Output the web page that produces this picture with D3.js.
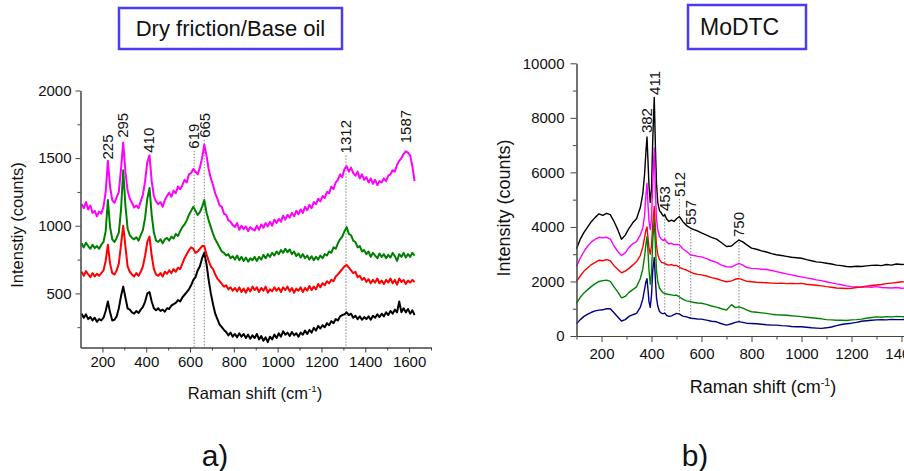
<!DOCTYPE html>
<html>
<head>
<meta charset="utf-8">
<script src="https://cdn.jsdelivr.net/npm/d3@7"></script>
<style>
body{margin:0;background:#fff;}
svg{display:block;}
text{font-family:"Liberation Sans",Arial,sans-serif;fill:#111;}
</style>
</head>
<body>
<svg id="chart" width="904" height="471"></svg>
<script>
// ---- panel a) Dry friction / Base oil ----
// raman shift grid, every 10 cm-1
var shiftA = d3.range(105, 1630, 10);
var magentaA = [
 1160,1130,1175,1120,1150,1095,1110,1070,1105,1090,
 1140,1250,1480,1290,1190,1170,1210,1250,1420,1615,
 1400,1260,1200,1170,1135,1150,1130,1180,1230,1330,
 1470,1520,1330,1220,1180,1160,1175,1140,1190,1220,
 1245,1215,1260,1240,1290,1270,1300,1340,1320,1380,
 1390,1420,1400,1380,1430,1500,1600,1520,1420,1350,
 1300,1240,1200,1150,1140,1090,1080,1040,1030,1005,
 990,1020,970,1000,975,995,960,990,975,965,
 1000,970,1010,985,1020,995,1030,1000,1045,1020,
 1050,1030,1075,1045,1080,1060,1095,1070,1110,1085,
 1120,1095,1140,1115,1155,1130,1175,1160,1200,1180,
 1220,1205,1250,1240,1290,1270,1320,1340,1380,1360,
 1420,1440,1400,1430,1390,1370,1400,1350,1380,1340,
 1360,1320,1350,1310,1340,1300,1330,1320,1350,1330,
 1370,1380,1410,1400,1450,1480,1500,1530,1550,1540,
 1520,1440,1330];
var greenA = [
 870,840,875,850,830,860,835,850,830,860,
 880,960,1190,990,900,880,910,950,1120,1410,
 1150,980,930,910,900,915,890,930,970,1060,
 1200,1280,1080,950,890,880,900,870,900,910,
 890,920,905,940,925,960,990,1010,1040,1080,
 1110,1140,1110,1080,1100,1140,1190,1100,1040,990,
 940,900,870,840,810,800,780,790,760,775,
 750,780,745,770,740,765,735,760,745,770,
 740,770,750,785,760,790,770,800,780,810,
 790,820,800,830,805,825,790,810,775,795,
 765,790,760,780,750,775,745,770,750,780,
 760,790,780,810,800,840,830,870,900,920,
 960,990,940,930,890,880,840,850,810,820,
 790,810,770,800,780,760,795,770,790,760,
 785,765,800,775,740,790,770,800,765,790,
 770,800,780];
var redA = [
 660,630,665,640,620,650,625,645,630,650,
 670,740,860,720,650,640,670,720,860,1000,
 850,700,660,640,625,650,630,660,700,780,
 880,920,780,680,640,630,650,625,660,645,
 670,650,680,660,690,680,720,760,790,820,
 840,830,800,810,830,850,850,790,740,700,
 680,640,610,590,570,550,560,530,545,520,
 540,515,545,510,535,505,540,515,550,525,
 545,510,540,520,550,505,530,515,545,520,
 540,510,545,525,550,515,540,505,535,520,
 545,510,540,520,555,525,550,530,570,545,
 575,560,590,575,600,590,625,640,660,680,
 700,710,690,670,650,660,620,630,600,615,
 585,605,575,600,580,610,575,595,570,600,
 580,610,575,600,565,610,585,600,570,595,
 580,600,585];
var blackA = [
 350,320,345,310,325,300,320,290,310,300,
 320,370,440,360,300,305,330,390,480,550,
 470,390,380,360,350,370,355,380,400,440,
 500,510,440,390,375,390,370,380,365,390,
 385,410,420,430,450,440,470,490,510,530,
 560,600,620,670,700,760,800,720,600,500,
 420,350,310,270,250,230,215,190,210,180,
 200,175,205,180,200,170,195,165,190,170,
 200,160,185,150,175,140,180,160,195,170,
 205,180,220,195,210,185,215,190,205,180,
 210,195,225,200,230,210,245,225,260,240,
 265,250,280,265,295,280,310,300,330,340,
 345,360,340,350,320,335,310,330,305,325,
 310,330,305,335,320,345,325,350,330,360,
 340,370,350,380,360,440,360,390,360,385,
 350,375,340];
var peaksA = [225, 295, 410, 619, 665, 1312, 1587];
var peakLabelAtA = [1490, 1650, 1540, 1570, 1650, 1535, 1610];
var dottedA = [619, 665, 1312];
var xTicksA = [200, 400, 600, 800, 1000, 1200, 1400, 1600];
var yTicksA = [500, 1000, 1500, 2000];

// ---- panel b) MoDTC ----
var shiftB = [100,115,130,145,160,175,190,205,220,235,250,265,280,295,310,325,340,355,
 365,372,378,382,386,390,395,400,405,411,416,420,425,432,440,447,453,460,
 470,480,490,500,512,525,540,557,570,585,600,
 620,640,660,680,700,720,735,750,765,780,800,
 820,840,860,880,900,920,940,960,980,1000,1020,1040,1060,1080,1100,1120,1140,1160,1180,
 1200,1220,1240,1260,1280,1300,1320,1340,1360,1380,1400,1420,1440,1460,1480,1500];
var blackB = [3200,3550,3800,4000,4200,4350,4480,4420,4500,4450,4200,3900,3550,3700,3950,4150,4300,4700,
 5200,5900,6800,7300,6400,5500,4900,5400,7200,8750,6800,5600,4900,4600,4500,4400,4450,4300,
 4200,4250,4200,4300,4380,4200,4050,3950,3900,3850,3780,
 3700,3620,3550,3420,3280,3300,3420,3520,3450,3350,3220,
 3180,3120,3080,3020,2980,2950,2920,2890,2870,2850,2800,2760,2720,2700,2670,2640,2600,2580,2550,
 2540,2560,2550,2570,2590,2600,2580,2620,2600,2640,2620,2630,2600,2620,2610,2600];
var magentaB = [2550,2850,3100,3300,3450,3550,3620,3600,3620,3560,3300,3100,2950,3050,3250,3380,3460,3700,
 3950,4400,5200,5600,4800,4200,3900,4300,5600,6900,5200,4300,3900,3650,3550,3500,3560,3450,
 3380,3400,3350,3360,3340,3200,3100,2970,2950,2920,2900,
 2840,2760,2700,2600,2540,2530,2600,2660,2600,2520,2480,
 2470,2450,2440,2400,2360,2320,2280,2240,2200,2170,2130,2100,2060,2030,1990,1950,1910,1880,1840,
 1810,1800,1790,1800,1790,1810,1780,1770,1760,1780,1750,1760,1740,1760,1750,1750];
var redB = [2000,2200,2380,2500,2620,2700,2780,2760,2800,2760,2580,2450,2320,2380,2480,2600,2720,2950,
 3250,3600,3900,4000,3600,3200,3000,3300,4100,4750,3900,3300,3000,2800,2700,2680,2660,2620,
 2600,2620,2580,2590,2520,2460,2420,2340,2290,2260,2240,
 2200,2140,2100,2040,1990,2020,2080,2110,2060,2010,1990,
 1970,1960,1950,1940,1930,1940,1920,1930,1920,1930,1900,1880,1860,1840,1810,1790,1760,1750,1740,
 1750,1780,1800,1830,1850,1870,1890,1920,1940,1960,1990,1980,2000,1990,2000,2000];
var greenB = [1200,1420,1580,1700,1820,1920,2000,2030,2050,2000,1800,1620,1400,1450,1600,1700,1800,2100,
 2450,2900,3400,3640,3100,2400,1900,2300,3500,4300,3200,2400,2000,1750,1650,1580,1560,1540,
 1520,1510,1490,1500,1430,1350,1290,1260,1230,1210,1200,
 1160,1100,1060,1000,950,1150,1040,1070,1020,960,890,
 870,850,830,800,780,770,760,740,730,710,690,670,650,630,600,590,580,580,570,
 590,600,620,650,680,700,690,710,700,720,710,700,720,710,700,700];
var navyB = [450,600,720,800,870,920,950,960,1000,1000,850,700,550,600,720,780,830,1050,
 1350,1700,2000,2100,1700,1250,1050,1500,2400,2880,2000,1400,1100,900,830,820,840,760,
 720,740,780,830,800,730,700,650,640,620,620,
 580,540,520,450,400,450,500,525,500,470,460,
 450,430,410,400,400,380,370,350,340,340,320,300,290,280,300,330,380,420,450,
 470,500,540,560,580,590,600,590,610,600,600,610,600,620,610,620];
var peaksB = [382, 411, 453, 512, 557, 750];
var peakLabelAtB = [7440, 8840, 4580, 5100, 4070, 3630];
var dottedB = [453, 512, 557, 750];
var xTicksB = [200, 400, 600, 800, 1000, 1200, 1400];
var yTicksB = [0, 2000, 4000, 6000, 8000, 10000];

var svg = d3.select("#chart");
svg.append("rect").attr("width", 904).attr("height", 471).attr("fill", "#fff");

var drawPanel = function(cfg){
	var g = svg.append("g");
	var x = d3.scaleLinear().domain(cfg.xDomain).range(cfg.xRange);
	var y = d3.scaleLinear().domain(cfg.yDomain).range(cfg.yRange);

	// dotted guide lines
	cfg.dotted.forEach(function(p){
		var k = cfg.peaks.indexOf(p);
		var yEnd = cfg.dotBottom ? y(cfg.dotBottom[cfg.shift.indexOf(p)]) : cfg.yRange[0];
		g.append("line")
			.attr("x1", x(p)).attr("x2", x(p))
			.attr("y1", y(cfg.labelAt[k]) + 2).attr("y2", yEnd)
			.attr("stroke", "#777").attr("stroke-width", 0.9)
			.attr("stroke-dasharray", "1.5,1.5");
	});

	// spectra
	cfg.series.forEach(function(s){
		g.append("path")
			.datum(s.values)
			.attr("fill", "none")
			.attr("stroke", s.color)
			.attr("stroke-width", cfg.lineWidth)
			.attr("stroke-linejoin", "round")
			.attr("d", d3.line()
				.x(function(d, i){ return x(cfg.shift[i]); })
				.y(function(d){ return y(d); }));
	});

	// peak labels
	cfg.peaks.forEach(function(p, k){
		g.append("text")
			.attr("transform", "translate(" + x(p) + "," + y(cfg.labelAt[k]) + ") rotate(-90)")
			.attr("dy", "0.35em")
			.attr("font-size", "15px")
			.text(p);
	});

	// axes, major + minor ticks
	var fmt = d3.format("d");
	var xAxis = d3.axisBottom(x).tickValues(cfg.xTicks).tickFormat(fmt).tickSize(cfg.tick).tickPadding(cfg.pad).tickSizeOuter(0);
	var xMinor = d3.axisBottom(x).tickValues(cfg.xMinor).tickSize(cfg.tick * 0.6).tickFormat("").tickSizeOuter(0);
	var yAxis = d3.axisLeft(y).tickValues(cfg.yTicks).tickFormat(fmt).tickSize(cfg.tick).tickPadding(cfg.pad).tickSizeOuter(0);
	var yMinor = d3.axisLeft(y).tickValues(cfg.yMinor).tickSize(cfg.tick * 0.6).tickFormat("").tickSizeOuter(0);

	[[xAxis, "translate(0," + cfg.yRange[0] + ")"], [xMinor, "translate(0," + cfg.yRange[0] + ")"],
	 [yAxis, "translate(" + cfg.xRange[0] + ",0)"], [yMinor, "translate(" + cfg.xRange[0] + ",0)"]].forEach(function(a){
		var ag = g.append("g").attr("transform", a[1]).call(a[0]);
		ag.selectAll("path,line").attr("stroke", "#444").attr("stroke-width", 1);
		ag.selectAll("text").attr("font-size", "15px").attr("font-family", '"Liberation Sans",Arial,sans-serif').attr("fill", "#111");
	});

	// axis titles
	var xt = g.append("text")
		.attr("x", cfg.xTitle[0]).attr("y", cfg.xTitle[1])
		.attr("text-anchor", "middle")
		.attr("font-size", cfg.titleSize + "px");
	xt.append("tspan").text("Raman shift (cm");
	xt.append("tspan").attr("dy", -cfg.titleSize * 0.4).attr("font-size", (cfg.titleSize * 0.6) + "px").text("-1");
	xt.append("tspan").attr("dy", cfg.titleSize * 0.4).text(")");

	g.append("text")
		.attr("transform", "translate(" + cfg.yTitle[0] + "," + cfg.yTitle[1] + ") rotate(-90)")
		.attr("text-anchor", "middle")
		.attr("dy", "0.35em")
		.attr("font-size", cfg.titleSize + "px")
		.text(cfg.yLabel);

	// boxed heading
	g.append("rect")
		.attr("x", cfg.box[0]).attr("y", cfg.box[1])
		.attr("width", cfg.box[2]).attr("height", cfg.box[3])
		.attr("fill", "none").attr("stroke", "#4b3cf0").attr("stroke-width", 2.5);
	g.append("text")
		.attr("x", cfg.headX).attr("y", cfg.box[1] + cfg.box[3] / 2)
		.attr("text-anchor", cfg.headAnchor).attr("dy", "0.35em")
		.attr("font-family", "Lato, 'Open Sans', sans-serif")
		.attr("font-size", cfg.headSize + "px")
		.text(cfg.heading);

	// panel letter
	g.append("text")
		.attr("x", cfg.letter[0]).attr("y", cfg.letter[1])
		.attr("text-anchor", "middle")
		.attr("font-family", "Lato, 'Open Sans', sans-serif")
		.attr("font-size", "30px")
		.text(cfg.letterText);
};

drawPanel({
	shift: shiftA,
	series: [
		{color: "#000000", values: blackA},
		{color: "#ff0000", values: redA},
		{color: "#008000", values: greenA},
		{color: "#ff00ff", values: magentaA}
	],
	xDomain: [100, 1700], xRange: [80.5, 431],
	yDomain: [100, 2000], yRange: [347.5, 90.5],
	xTicks: xTicksA, yTicks: yTicksA,
	xMinor: [300, 500, 700, 900, 1100, 1300, 1500, 1700],
	yMinor: [250, 750, 1250, 1750],
	peaks: peaksA, labelAt: peakLabelAtA, dotted: dottedA, dotBottom: null,
	lineWidth: 2, tick: 5, pad: 4,
	xTitle: [255, 399], yTitle: [17, 225], titleSize: 16.5,
	yLabel: "Intenstiy (counts)",
	box: [119, 8, 223, 41], heading: "Dry friction/Base oil", headSize: 22,
	headX: 230.5, headAnchor: "middle",
	letter: [215, 466], letterText: "a)"
});

drawPanel({
	shift: shiftB,
	series: [
		{color: "#000000", values: blackB},
		{color: "#ff00ff", values: magentaB},
		{color: "#ff0000", values: redB},
		{color: "#008000", values: greenB},
		{color: "#000080", values: navyB}
	],
	xDomain: [100, 1500], xRange: [576.5, 926.5],
	yDomain: [0, 10000], yRange: [336, 63.3],
	xTicks: xTicksB, yTicks: yTicksB,
	xMinor: [100, 300, 500, 700, 900, 1100, 1300, 1500],
	yMinor: [1000, 3000, 5000, 7000, 9000],
	peaks: peaksB, labelAt: peakLabelAtB, dotted: dottedB, dotBottom: navyB,
	lineWidth: 1.4, tick: 6, pad: 6,
	xTitle: [763, 393], yTitle: [504, 208], titleSize: 18,
	yLabel: "Intensity (counts)",
	box: [688, 5, 118, 44], heading: "MoDTC", headSize: 23,
	headX: 700, headAnchor: "start",
	letter: [695, 466], letterText: "b)"
});
</script>
</body>
</html>
